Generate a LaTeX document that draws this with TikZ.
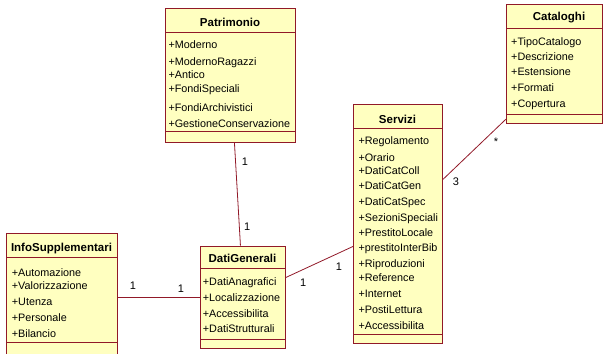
\documentclass[tikz,border=0pt]{standalone}
\usepackage{fontspec}
\setmainfont{Liberation Sans}
\usetikzlibrary{calc}

\definecolor{umlred}{RGB}{145,25,40}
\definecolor{umlfill}{RGB}{255,255,192}

\tikzset{
  classbox/.style={draw=umlred, fill=umlfill, line width=0.9pt, inner sep=0pt, anchor=north west},
  classsep/.style={draw=umlred, line width=0.9pt},
  classname/.style={font=\fontsize{11.5}{13}\selectfont\bfseries, inner sep=0pt},
  attr/.style={font=\fontsize{10.8}{12}\selectfont, anchor=west, inner sep=0pt},
  mult/.style={font=\fontsize{11}{12}\selectfont, inner sep=0pt},
  assoc/.style={draw=umlred, line width=0.8pt},
}

\begin{document}
\begin{tikzpicture}[x=1pt,y=-1pt]
    \useasboundingbox (0,0) rectangle (604,353);

    % Patrimonio
    \node[classbox, minimum width=130pt, minimum height=134pt] (patr) at (165,8) {};
    \draw[classsep] ([yshift=-24pt]patr.north west) -- ([yshift=-24pt]patr.north east);
    \draw[classsep] ([yshift=11pt]patr.south west) -- ([yshift=11pt]patr.south east);
    \node[classname] (patr-name) at (230,22.7) {Patrimonio};
    \foreach \t/\y [count=\i] in {Moderno/45, ModernoRagazzi/62.7, Antico/75,
        FondiSpeciali/90, FondiArchivistici/107.3, GestioneConservazione/123.3}
        \node[attr] (patr-\i) at (168.3,\y) {+\t};

    % Servizi
    \node[classbox, minimum width=89pt, minimum height=239pt] (serv) at (353,104) {};
    \draw[classsep] ([yshift=-24pt]serv.north west) -- ([yshift=-24pt]serv.north east);
    \draw[classsep] ([yshift=9pt]serv.south west) -- ([yshift=9pt]serv.south east);
    \node[classname] (serv-name) at (397.5,119) {Servizi};
    \foreach \t/\y [count=\i] in {Regolamento/141.7, Orario/157.3, DatiCatColl/171,
        DatiCatGen/185.7, DatiCatSpec/202.3, SezioniSpeciali/218.3, PrestitoLocale/232.3,
        prestitoInterBib/248.3, Riproduzioni/264.3, Reference/277.7, Internet/294,
        PostiLettura/310, Accessibilita/325.5}
        \node[attr] (serv-\i) at (358.3,\y) {+\t};

    % Cataloghi
    \node[classbox, minimum width=96pt, minimum height=118.5pt] (cat) at (506,4) {};
    \draw[classsep] ([yshift=-24pt]cat.north west) -- ([yshift=-24pt]cat.north east);
    \draw[classsep] ([yshift=9.2pt]cat.south west) -- ([yshift=9.2pt]cat.south east);
    \node[classname] (cat-name) at (559,18) {Cataloghi};
    \foreach \t/\y [count=\i] in {TipoCatalogo/43, Descrizione/57, Estensione/72,
        Formati/88, Copertura/105}
        \node[attr] (cat-\i) at (511,\y) {+\t};

    % InfoSupplementari
    \node[classbox, minimum width=111pt, minimum height=127pt] (info) at (6,233.3) {};
    \draw[classsep] ([yshift=-24pt]info.north west) -- ([yshift=-24pt]info.north east);
    \draw[classsep] (6,342.3) -- (117,342.3);
    \node[classname] (info-name) at (61.5,249) {InfoSupplementari};
    \foreach \t/\y [count=\i] in {Automazione/272.7, Valorizzazione/286, Utenza/301.7,
        Personale/317.7, Bilancio/333.3}
        \node[attr] (info-\i) at (11.7,\y) {+\t};

    % DatiGenerali
    \node[classbox, minimum width=85pt, minimum height=102.6pt] (dgen) at (200,245.7) {};
    \draw[classsep] ([yshift=-22.6pt]dgen.north west) -- ([yshift=-22.6pt]dgen.north east);
    \draw[classsep] ([yshift=9.3pt]dgen.south west) -- ([yshift=9.3pt]dgen.south east);
    \node[classname] (dgen-name) at (242.5,258.3) {DatiGenerali};
    \foreach \t/\y [count=\i] in {DatiAnagrafici/282.7, Localizzazione/297.7,
        Accessibilita/313.3, DatiStrutturali/328.3}
        \node[attr] (dgen-\i) at (202.7,\y) {+\t};

    % associazioni
    \draw[assoc] ([xshift=4pt]patr.south) -- ([xshift=-2.5pt]dgen.north);
    \draw[assoc] (info.east) -- (info.east -| dgen.west);
    \draw[assoc] ([yshift=20pt]dgen.east) -- ([yshift=-22.5pt]serv.west);
    \draw[assoc] ([yshift=44.5pt]serv.east) -- ([yshift=4.3pt]cat.south west);

    % molteplicita
    \node[mult] (m-patr) at (245,162) {1};
    \node[mult] (m-dgen-patr) at (247.3,226.7) {1};
    \node[mult] (m-info) at (133,286) {1};
    \node[mult] (m-dgen-info) at (181,288.3) {1};
    \node[mult] (m-dgen-serv) at (303.3,282.7) {1};
    \node[mult] (m-serv-dgen) at (339,266.7) {1};
    \node[mult] (m-serv-cat) at (456,181.7) {3};
    \node[mult] (m-cat) at (496,142) {*};
\end{tikzpicture}
\end{document}
